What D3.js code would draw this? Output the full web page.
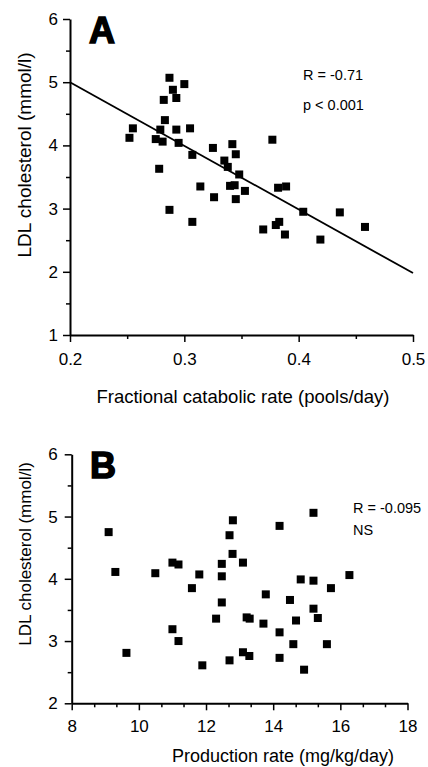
<!DOCTYPE html>
<html>
<head>
<meta charset="utf-8">
<script src="https://cdn.jsdelivr.net/npm/d3@7"></script>
<style>
body { margin: 0; background: #fff; }
text { font-family: "Liberation Sans", Arial, Helvetica, sans-serif; fill: #000; }
</style>
</head>
<body>
<script>
// Panel A - fractional catabolic rate (pools/day) vs LDL cholesterol (mmol/l)
var fcrA = [0.252, 0.255, 0.287, 0.290, 0.293, 0.282, 0.300, 0.283, 0.279, 0.293, 0.305,
            0.275, 0.281, 0.295, 0.307, 0.278, 0.325, 0.342, 0.345, 0.335, 0.338, 0.348,
            0.377, 0.314, 0.326, 0.340, 0.344, 0.345, 0.353, 0.287, 0.307, 0.369, 0.380,
            0.383, 0.388, 0.382, 0.389, 0.404, 0.419, 0.436, 0.458];
var ldlA = [4.12, 4.27, 5.07, 4.88, 4.75, 4.72, 4.97, 4.40, 4.25, 4.25, 4.27,
            4.10, 4.06, 4.04, 3.85, 3.63, 3.96, 4.02, 3.86, 3.76, 3.66, 3.54,
            4.09, 3.35, 3.18, 3.36, 3.37, 3.15, 3.28, 2.98, 2.79, 2.67, 2.74,
            2.79, 2.59, 3.33, 3.35, 2.95, 2.51, 2.94, 2.71];
// regression line end points
var fitXA = [0.2, 0.5];
var fitYA = [5.0, 1.98];
var statsA = ["R = -0.71", "p < 0.001"];
var xTicksA = [0.2, 0.3, 0.4, 0.5];
var xMinorA = [0.25, 0.35, 0.45];
var yTicksA = [1, 2, 3, 4, 5, 6];
var yMinorA = [1.5, 2.5, 3.5, 4.5, 5.5];

// Panel B - production rate (mg/kg/day) vs LDL cholesterol (mmol/l)
var prodB = [9.10, 9.30, 9.63, 10.49, 11.00, 11.18, 11.00, 11.18, 11.58, 11.80, 11.89,
             12.30, 12.47, 12.47, 12.47, 12.70, 12.70, 12.80, 12.79, 13.10, 13.10, 13.21,
             13.30, 13.29, 13.71, 13.78, 14.19, 14.19, 14.19, 14.50, 14.60, 14.68, 14.82,
             14.92, 15.20, 15.20, 15.20, 15.33, 15.60, 15.72, 16.27];
var ldlB = [4.75, 4.11, 2.81, 4.09, 4.26, 4.23, 3.19, 3.00, 3.85, 4.07, 2.61,
            3.36, 4.24, 4.04, 3.62, 2.69, 4.70, 4.94, 4.40, 4.26, 2.82, 3.38,
            3.36, 2.76, 3.28, 3.75, 3.14, 4.85, 2.73, 3.66, 2.95, 3.33, 3.99,
            2.54, 5.06, 3.97, 3.52, 3.37, 2.95, 3.85, 4.06];
var statsB = ["R = -0.095", "NS"];
var xTicksB = [8, 10, 12, 14, 16, 18];
var xMinorB = [8.67, 9.33, 10.67, 11.33, 12.67, 13.33, 14.67, 15.33, 16.67, 17.33];
var yTicksB = [2, 3, 4, 5, 6];
var yMinorB = [2.5, 3.5, 4.5, 5.5];

var svg = d3.select("body").append("svg")
    .attr("width", 428)
    .attr("height", 767)

var markSize = 8;

function drawPanel(p) {
    var x = d3.scaleLinear().domain(p.xDomain).range(p.xRange);
    var y = d3.scaleLinear().domain(p.yDomain).range(p.yRange);
    var g = svg.append("g");

    // minor ticks first, so the main axes sit on top
    g.append("g")
        .attr("transform", "translate(0," + p.yRange[0] + ")")
        .call(d3.axisBottom(x).tickValues(p.xMinor).tickSize(4).tickFormat(""))
        .call(a => a.select(".domain").remove())
        .selectAll("line").attr("stroke-width", 1.5);
    g.append("g")
        .attr("transform", "translate(" + p.xRange[0] + ",0)")
        .call(d3.axisLeft(y).tickValues(p.yMinor).tickSize(4).tickFormat(""))
        .call(a => a.select(".domain").remove())
        .selectAll("line").attr("stroke-width", 1.5);

    var xAxis = g.append("g")
        .attr("transform", "translate(0," + p.yRange[0] + ")")
        .call(d3.axisBottom(x).tickValues(p.xTicks).tickSize(7).tickSizeOuter(0)
            .tickPadding(p.xPad).tickFormat(p.xFormat));
    var yAxis = g.append("g")
        .attr("transform", "translate(" + p.xRange[0] + ",0)")
        .call(d3.axisLeft(y).tickValues(p.yTicks).tickSize(7).tickSizeOuter(0)
            .tickPadding(p.yPad).tickFormat(d3.format("d")));

    [xAxis, yAxis].forEach(function(a) {
        a.attr("font-family", null).attr("font-size", null);
        a.select(".domain").attr("stroke-width", 2);
        a.selectAll(".tick line").attr("stroke-width", 1.5);
        a.selectAll(".tick text").attr("font-size", "17px");
    });

    if (p.fitX) {
        var fit = p.fitX.map((d, i) => [d, p.fitY[i]]);
        g.append("path")
            .datum(fit)
            .attr("fill", "none")
            .attr("stroke", "black")
            .attr("stroke-width", 1.8)
            .attr("d", d3.line().x(d => x(d[0])).y(d => y(d[1])));
    }

    g.selectAll("rect.pt").data(p.xs)
        .enter().append("rect")
        .attr("class", "pt")
        .attr("x", d => x(d) - markSize / 2)
        .attr("y", (d, i) => y(p.ys[i]) - markSize / 2)
        .attr("width", markSize)
        .attr("height", markSize)
        .attr("fill", "black");

    // panel letter
    g.append("text")
        .attr("x", p.letterX)
        .attr("y", p.letterY)
        .attr("font-size", "36px")
        .attr("font-weight", "bold")
        .attr("stroke", "black")
        .attr("stroke-width", 1.5)
        .text(p.letter);

    p.stats.forEach(function(s, i) {
        g.append("text")
            .attr("x", p.statsX)
            .attr("y", p.statsY[i])
            .attr("font-size", "14.5px")
            .text(s);
    });

    g.append("text")
        .attr("x", p.xLabelX)
        .attr("y", p.xLabelY)
        .attr("text-anchor", "middle")
        .attr("font-size", p.xLabelSize)
        .text(p.xLabel);

    g.append("text")
        .attr("transform", "translate(31," + p.yLabelY + ") rotate(-90)")
        .attr("text-anchor", "middle")
        .attr("font-size", p.yLabelSize)
        .text("LDL cholesterol (mmol/l)");
}

drawPanel({
    xDomain: [0.2, 0.5], xRange: [70, 413],
    yDomain: [1, 6], yRange: [335, 19],
    xs: fcrA, ys: ldlA, fitX: fitXA, fitY: fitYA,
    xTicks: xTicksA, xMinor: xMinorA, yTicks: yTicksA, yMinor: yMinorA,
    xFormat: d3.format(".1f"), xPad: 11, yPad: 5,
    letter: "A", letterX: 89, letterY: 43,
    stats: statsA, statsX: 303, statsY: [80, 110],
    xLabel: "Fractional catabolic rate (pools/day)", xLabelX: 243, xLabelY: 403, xLabelSize: "18.5px",
    yLabelY: 155, yLabelSize: "19px"
});

drawPanel({
    xDomain: [8, 18], xRange: [71.7, 407.5],
    yDomain: [2, 6], yRange: [703.3, 454.3],
    xs: prodB, ys: ldlB,
    xTicks: xTicksB, xMinor: xMinorB, yTicks: yTicksB, yMinor: yMinorB,
    xFormat: d3.format("d"), xPad: 10, yPad: 7,
    letter: "B", letterX: 90, letterY: 478,
    stats: statsB, statsX: 353, statsY: [513, 535],
    xLabel: "Production rate (mg/kg/day)", xLabelX: 283, xLabelY: 762, xLabelSize: "18px",
    yLabelY: 554, yLabelSize: "17px"
});
</script>
</body>
</html>
